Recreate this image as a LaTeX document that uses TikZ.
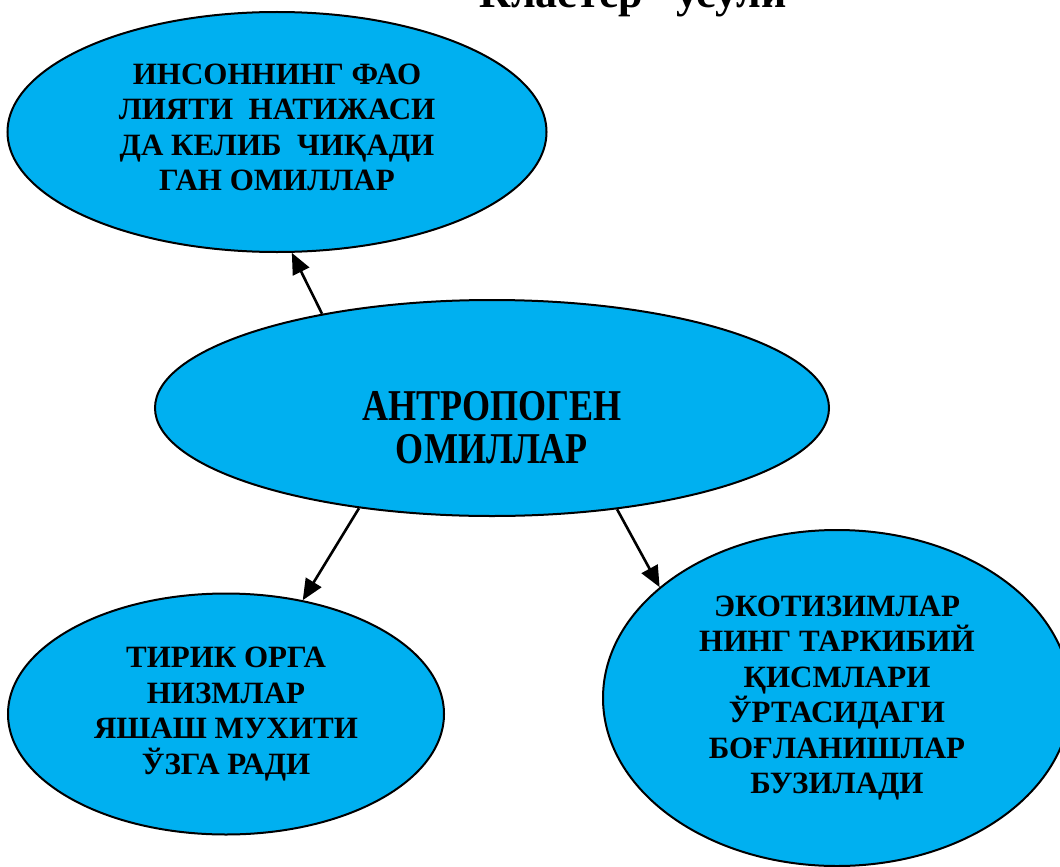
\documentclass[tikz,border=0pt]{standalone}
\usepackage{fontspec}
\setmainfont{Liberation Serif}
\newfontfamily\narrowserif{Liberation Serif}[FakeStretch=0.82]
\usetikzlibrary{shapes.geometric,arrows.meta}
\definecolor{bubble}{HTML}{00B0F0}
\begin{document}
\begin{tikzpicture}[x=1pt,y=-1pt,
  bubble/.style={ellipse,draw=black,line width=2pt,fill=bubble,inner sep=0pt,
    align=center,font=\bfseries\fontsize{31}{35.5}\selectfont},
  link/.style={line width=2.6pt,-{Triangle[length=21pt,width=18pt]}}]
\useasboundingbox (0,0) rectangle (1060,867);

% heading (only its lower part falls on the page)
\node[anchor=base,font=\bfseries\fontsize{44}{48}\selectfont,inner sep=0pt] (title) at (622,8)
  {“Кластер” усули};

% central idea
\node[bubble,minimum width=674pt,minimum height=216pt] (anthro) at (492,408) {};
\node[align=center,inner sep=0pt,font=\narrowserif\bfseries\fontsize{44}{43}\selectfont] (anthrotext) at (492,428)
  {АНТРОПОГЕН\\ОМИЛЛАР};

% surrounding ideas
\node[bubble,minimum width=539pt,minimum height=240pt] (human) at (277,132)
  {ИНСОННИНГ ФАО\\ЛИЯТИ\ \ НАТИЖАСИ\\ДА КЕЛИБ\ \ ЧИҚАДИ\\ГАН ОМИЛЛАР\\[-26pt]};
\node[bubble,minimum width=436pt,minimum height=241pt] (habitat) at (226,714)
  {ТИРИК ОРГА\\НИЗМЛАР\\ЯШАШ МУХИТИ\\ЎЗГА РАДИ};
\node[bubble,minimum width=468pt,minimum height=336pt] (ecosys) at (837,698)
  {ЭКОТИЗИМЛАР\\НИНГ ТАРКИБИЙ\\ҚИСМЛАРИ\\ЎРТАСИДАГИ\\БОҒЛАНИШЛАР\\БУЗИЛАДИ};

% arrows from the centre
\draw[link] (anthro.151) -- (human.-83);
\draw[link] (anthro.-143) -- (habitat.56);
\draw[link] (anthro.-39) -- (ecosys.148);
\end{tikzpicture}
\end{document}
